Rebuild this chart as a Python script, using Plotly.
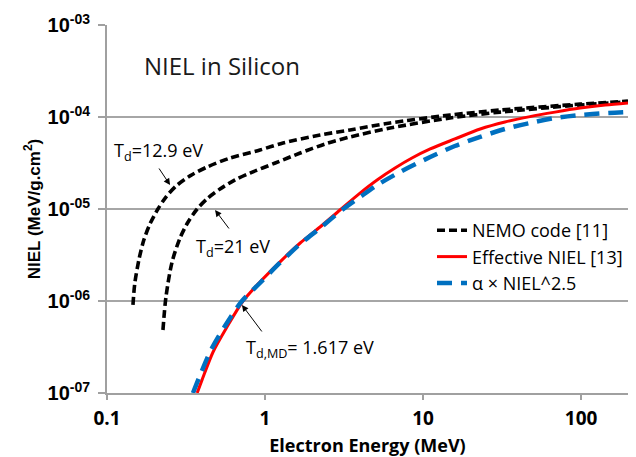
import plotly.graph_objects as go

# NEMO code, Td = 12.9 eV  (energy MeV, NIEL MeV/g.cm2)
nemo1_x = [0.146, 0.150, 0.160, 0.171, 0.187, 0.210, 0.236, 0.274, 0.335, 0.430, 0.600, 0.929,
           1.30, 2.23, 3.45, 6.18, 14.8, 30.7, 98.6, 198]
nemo1_y = [9.06e-7, 1.57e-6, 2.93e-6, 4.60e-6, 6.87e-6, 1.0e-5, 1.35e-5, 1.78e-5, 2.29e-5, 2.86e-5,
           3.58e-5, 4.38e-5, 5.21e-5, 6.37e-5, 7.23e-5, 8.61e-5, 1.05e-4, 1.19e-4, 1.38e-4, 1.49e-4]
# NEMO code, Td = 21 eV
nemo2_x = [0.226, 0.236, 0.258, 0.290, 0.326, 0.372, 0.436, 0.519, 0.646, 0.804, 1.16, 1.67,
           2.40, 3.45, 6.18, 14.8, 30.7, 98.6, 198]
nemo2_y = [4.84e-7, 1.10e-6, 2.65e-6, 4.84e-6, 7.23e-6, 1.0e-5, 1.32e-5, 1.65e-5, 2.07e-5, 2.46e-5,
           3.16e-5, 4.06e-5, 5.09e-5, 6.07e-5, 7.59e-5, 9.75e-5, 1.13e-4, 1.35e-4, 1.46e-4]
# Effective NIEL [13]
eff_x = [0.372, 0.399, 0.469, 0.574, 0.726, 0.929, 1.24, 1.67, 2.23, 2.98, 3.99, 5.12, 6.65,
         8.51, 11.1, 15.9, 23.0, 33.0, 47.5, 68.4, 98.6, 142, 198]
eff_y = [1.0e-7, 1.38e-7, 2.79e-7, 5.21e-7, 1.0e-6, 1.61e-6, 2.65e-6, 4.27e-6, 6.37e-6, 9.75e-6,
         1.49e-5, 2.07e-5, 2.79e-5, 3.58e-5, 4.49e-5, 5.77e-5, 7.41e-5, 8.83e-5, 1.01e-4, 1.13e-4,
         1.25e-4, 1.35e-4, 1.42e-4]
# alpha x NIEL^2.5
alpha_x = [0.350, 0.382, 0.455, 0.558, 0.715, 0.929, 1.24, 1.67, 2.23, 3.07, 3.99, 5.12, 7.14,
           11.1, 15.9, 23.0, 33.0, 47.5, 68.4, 98.6, 142, 198]
alpha_y = [1.0e-7, 1.46e-7, 2.93e-7, 5.35e-7, 1.0e-6, 1.57e-6, 2.59e-6, 4.17e-6, 6.21e-6, 9.75e-6,
           1.35e-5, 1.82e-5, 2.52e-5, 3.67e-5, 4.84e-5, 6.07e-5, 7.41e-5, 8.61e-5, 9.75e-5, 1.05e-4,
           1.10e-4, 1.13e-4]

x_tickvals = [0.1, 1, 10, 100]
x_ticktext = ["0.1", "1", "10", "100"]
y_tickvals = [1e-7, 1e-6, 1e-5, 1e-4, 1e-3]
y_ticktext = ["10<sup>-07</sup>", "10<sup>-06</sup>", "10<sup>-05</sup>", "10<sup>-04</sup>", "10<sup>-03</sup>"]

fig = go.Figure()
fig.add_trace(go.Scatter(x=nemo1_x, y=nemo1_y, mode="lines", name="NEMO code [11]",
                         line=dict(color="black", width=3.6, dash="8px,4px", shape="spline", smoothing=0.8)))
fig.add_trace(go.Scatter(x=nemo2_x, y=nemo2_y, mode="lines", showlegend=False,
                         line=dict(color="black", width=3.6, dash="8px,4px", shape="spline", smoothing=0.8)))
fig.add_trace(go.Scatter(x=eff_x, y=eff_y, mode="lines", name="Effective NIEL [13]",
                         line=dict(color="#FF0000", width=3, shape="spline", smoothing=0.8)))
fig.add_trace(go.Scatter(x=alpha_x, y=alpha_y, mode="lines", name="α × NIEL^2.5",
                         line=dict(color="#0070C0", width=4.5, dash="15px,9px", shape="spline", smoothing=0.8)))

ann_font = dict(family="Open Sans", size=18, color="black")
arrow = dict(showarrow=True, arrowhead=2, arrowsize=1.3, arrowwidth=1, arrowcolor="black",
             text="", standoff=0, xref="x", yref="y")
# arrows (head at curve, tail offset in px)
fig.add_annotation(x=-0.601, y=-4.739, ax=-12, ay=-18, **arrow)
fig.add_annotation(x=-0.316, y=-5.011, ax=15, ay=20, **arrow)
fig.add_annotation(x=-0.146, y=-6.043, ax=21, ay=28, **arrow)
# labels
fig.add_annotation(x=-0.677, y=-4.38, xref="x", yref="y", text="T<sub>d</sub>=12.9 eV",
                   showarrow=False, font=ann_font)
fig.add_annotation(x=-0.203, y=-5.413, xref="x", yref="y", text="T<sub>d</sub>=21 eV",
                   showarrow=False, font=ann_font)
fig.add_annotation(x=0.285, y=-6.511, xref="x", yref="y", text="T<sub>d,MD</sub>= 1.617 eV",
                   showarrow=False, font=ann_font)

fig.add_annotation(x=(142 - 107) / 521, y=(393 - 65) / 368, xref="paper", yref="paper",
                   text="NIEL in Silicon", showarrow=False, xanchor="left", yanchor="middle",
                   font=dict(family="Open Sans", size=24, color="#1a1a1a"))

fig.update_xaxes(type="log", range=[-1, 2.297], tickvals=x_tickvals, ticktext=x_ticktext,
                 showgrid=False, showline=True, linecolor="#A0A0A0", linewidth=2,
                 ticks="outside", ticklen=5, tickcolor="#A0A0A0", tickwidth=1.5,
                 ticklabelstandoff=2, automargin=False,
                 tickfont=dict(family="Open Sans", size=19, color="black", weight="bold"),
                 title=dict(text="Electron Energy (MeV)", standoff=12,
                            font=dict(family="Open Sans", size=18, color="black", weight="bold")),
                 zeroline=False)
fig.update_yaxes(type="log", range=[-7, -3], tickvals=y_tickvals, ticktext=y_ticktext,
                 showgrid=True, gridcolor="#A6A6A6", gridwidth=1.5,
                 showline=True, linecolor="#A0A0A0", linewidth=2,
                 ticks="outside", ticklen=7, tickcolor="#A0A0A0", tickwidth=1.5,
                 ticklabelstandoff=4, automargin=False,
                 tickfont=dict(family="Liberation Sans", size=20, color="black", weight="bold"),
                 title=dict(text="NIEL (MeV/g.cm<sup>2</sup>)", standoff=3,
                            font=dict(family="Liberation Sans", size=17, color="black", weight="bold")),
                 zeroline=False)

fig.update_layout(
    width=636, height=457,
    margin=dict(l=107, r=8, t=25, b=64),
    plot_bgcolor="white", paper_bgcolor="white",
    legend=dict(x=1.0, y=(393 - 212) / 368, xanchor="right", yanchor="top",
                bgcolor="rgba(0,0,0,0)", borderwidth=0,
                font=dict(family="Open Sans", size=18, color="black"),
                tracegroupgap=0),
)

fig.write_html("out.html", config={"displayModeBar": False},
               post_script="document.body.style.margin='0';")
